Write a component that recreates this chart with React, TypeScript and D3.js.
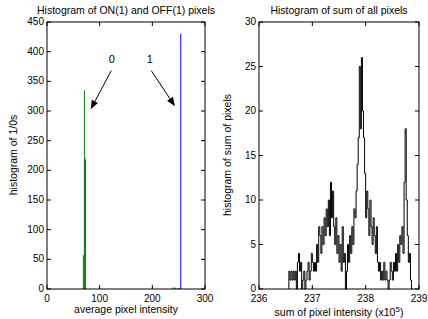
import React from "react";
import * as d3 from "d3";

// left panel: histogram of averaged 0/1 pixels
const offBins = [69, 70, 71, 72, 73, 238, 241, 244, 247];
const offCounts = [57, 2, 335, 221, 218, 2, 3, 2, 1];
const onBins = [250, 252, 254];
const onCounts = [1, 2, 430];
const leftXTicks = [0, 100, 200, 300];
const leftYTicks = [0, 50, 100, 150, 200, 250, 300, 350, 400, 450];

// right panel: histogram of summed intensity (x1e5), bin width 0.02
const sumStart = 236.56;
const sumStep = 0.02;
const sumCounts = [
  2, 1, 2, 1, 2, 1, 2, 0, 3, 4, 2, 3, 0, 1, 2, 0, 1, 2, 3, 1,
  2, 4, 3, 2, 3, 2, 5, 3, 7, 6, 4, 7, 5, 8, 6, 9, 7, 10, 6, 12,
  8, 11, 7, 5, 8, 4, 6, 3, 5, 2, 7, 3, 4, 0, 2, 5, 3, 6, 4, 7,
  5, 9, 8, 11, 14, 17, 25, 18, 26, 20, 17, 13, 8, 11, 9, 6, 10, 7, 5, 8,
  6, 4, 7, 3, 2, 3, 1, 2, 1, 3, 1, 2, 1, 0, 1, 3, 2, 1, 3, 2,
  4, 2, 5, 3, 6, 5, 7, 4, 12, 18, 10, 6, 3, 4, 1, 0,
];
const rightXTicks = [236, 237, 238, 239];
const rightYTicks = [0, 5, 10, 15, 20, 25, 30];

const font = "'Liberation Sans', Arial, sans-serif";
const top = 22;
const bottom = 289;
const tick = 4;

function Frame({ x, y, xTicks, yTicks }: any) {
  const [x0, x1] = x.range();
  return (
    <g>
      <rect x={x0} y={top} width={x1 - x0} height={bottom - top} fill="none" stroke="#000" />
      {xTicks.map((t: number) => (
        <g key={"x" + t}>
          <line x1={x(t)} x2={x(t)} y1={bottom} y2={bottom - tick} stroke="#000" />
          <line x1={x(t)} x2={x(t)} y1={top} y2={top + tick} stroke="#000" />
          <text x={x(t)} y={bottom + 13} textAnchor="middle" fontSize={10} fontFamily={font}>{t}</text>
        </g>
      ))}
      {yTicks.map((t: number) => (
        <g key={"y" + t}>
          <line x1={x0} x2={x0 + tick} y1={y(t)} y2={y(t)} stroke="#000" />
          <line x1={x1} x2={x1 - tick} y1={y(t)} y2={y(t)} stroke="#000" />
          <text x={x0 - 3} y={y(t) + 3} textAnchor="end" fontSize={10} fontFamily={font}>{t}</text>
        </g>
      ))}
    </g>
  );
}

function Arrow({ x1, y1, x2, y2 }: any) {
  const a = Math.atan2(y2 - y1, x2 - x1);
  const L = 9, W = 3.5;
  const bx = x2 - L * Math.cos(a), by = y2 - L * Math.sin(a);
  const px = -Math.sin(a) * W, py = Math.cos(a) * W;
  return (
    <g>
      <line x1={x1} y1={y1} x2={bx} y2={by} stroke="#000" />
      <path d={`M${x2},${y2}L${bx + px},${by + py}L${bx - px},${by - py}Z`} fill="#000" />
    </g>
  );
}

export default function App() {
  const xl = d3.scaleLinear().domain([0, 300]).range([47, 205]);
  const yl = d3.scaleLinear().domain([0, 450]).range([bottom, top]);
  const xr = d3.scaleLinear().domain([236, 239]).range([259, 419]);
  const yr = d3.scaleLinear().domain([0, 30]).range([bottom, top]);

  const stepPts: [number, number][] = [];
  sumCounts.forEach((c, i) => {
    const a = sumStart + i * sumStep;
    stepPts.push([a, c], [a + sumStep, c]);
  });
  const stepLine = d3
    .line<[number, number]>()
    .x((d) => xr(d[0]))
    .y((d) => yr(d[1]));
  const closed: [number, number][] = [[sumStart, 0], ...stepPts, [sumStart + sumCounts.length * sumStep, 0]];

  return (
    <svg width={428} height={319} style={{ position: "absolute", left: 0, top: 0, background: "#fff" }}>
      <rect width={428} height={319} fill="#fff" />
      {/* left panel */}
      {offBins.map((b, i) => (
        <line key={"g" + b} x1={xl(b)} x2={xl(b)} y1={bottom} y2={yl(offCounts[i])} stroke="#008000" strokeWidth={1} />
      ))}
      {onBins.map((b, i) => (
        <line key={"b" + b} x1={xl(b)} x2={xl(b)} y1={bottom} y2={yl(onCounts[i])} stroke="#0000ff" strokeWidth={1} />
      ))}
      <Frame x={xl} y={yl} xTicks={leftXTicks} yTicks={leftYTicks} />
      <text x={xl(123)} y={yl(381)} textAnchor="middle" fontSize={11} fontFamily={font}>0</text>
      <Arrow x1={xl(122)} y1={yl(368)} x2={xl(83)} y2={yl(303)} />
      <text x={xl(195)} y={yl(381)} textAnchor="middle" fontSize={11} fontFamily={font}>1</text>
      <Arrow x1={xl(198)} y1={yl(368)} x2={xl(243)} y2={yl(308)} />
      <text x={126} y={14} textAnchor="middle" fontSize={10.5} fontFamily={font}>Histogram of ON(1) and OFF(1) pixels</text>
      <text x={126} y={313} textAnchor="middle" fontSize={10.5} fontFamily={font}>average pixel intensity</text>
      <text transform="translate(17,155) rotate(-90)" textAnchor="middle" fontSize={10.5} fontFamily={font}>histogram of 1/0s</text>

      {/* right panel */}
      <path d={stepLine(closed) || ""} fill="none" stroke="#000" strokeWidth={1} />
      <Frame x={xr} y={yr} xTicks={rightXTicks} yTicks={rightYTicks} />
      <text x={339} y={14} textAnchor="middle" fontSize={10.5} fontFamily={font}>Histogram of sum of all pixels</text>
      <text x={339} y={316} textAnchor="middle" fontSize={10.5} fontFamily={font}>
        sum of pixel intensity (x10<tspan dy={-4} fontSize={8}>5</tspan><tspan dy={4}>)</tspan>
      </text>
      <text transform="translate(231,155) rotate(-90)" textAnchor="middle" fontSize={10.5} fontFamily={font}>histogram of sum of pixels</text>
    </svg>
  );
}
